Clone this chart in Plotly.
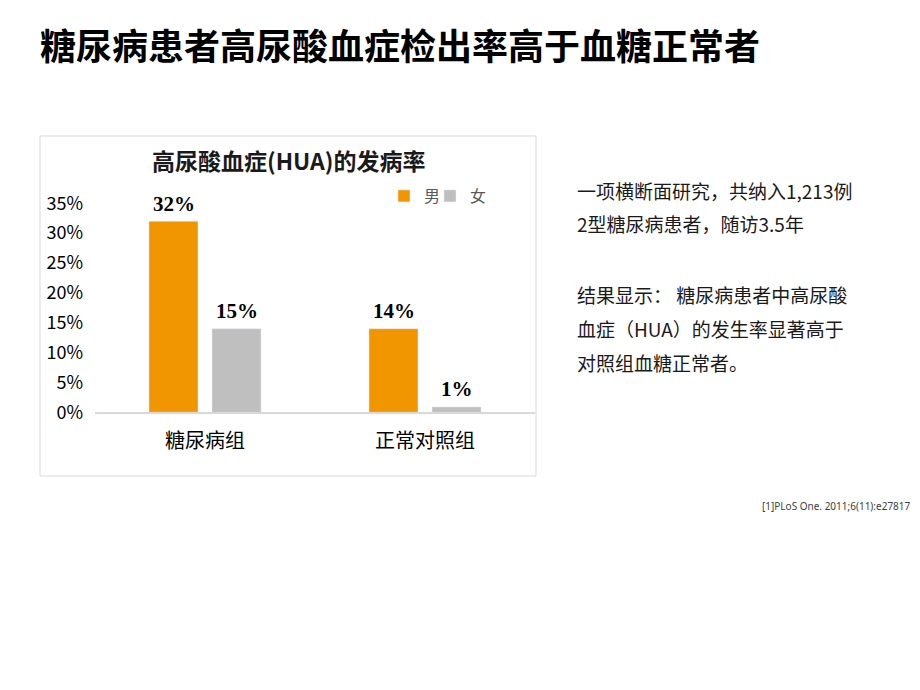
import plotly.graph_objects as go

categories = ["糖尿病组", "正常对照组"]
male = [32, 14]
female = [14, 0.9]
male_labels = ["32%", "14%"]
female_labels = ["15%", "1%"]
series_names = ["男", "女"]
y_ticks = [0, 5, 10, 15, 20, 25, 30, 35]
y_tick_text = [f"{v}%" for v in y_ticks]

main_title = "糖尿病患者高尿酸血症检出率高于血糖正常者"
chart_title = "高尿酸血症(HUA)的发病率"
side_lines = [
    "一项横断面研究，共纳入1,213例",
    "2型糖尿病患者，随访3.5年",
    "结果显示： 糖尿病患者中高尿酸",
    "血症（HUA）的发生率显著高于",
    "对照组血糖正常者。",
]
side_line_y = [190, 224, 294, 328, 362]
citation = "[1]PLoS One. 2011;6(11):e27817"

W, H = 920, 690
def px(x):
    return x / W
def py(y):
    return 1 - y / H

CJK = "Noto Sans CJK SC"
ORANGE = "#F29600"
GRAY = "#BFBFBF"

fig = go.Figure()
fig.add_trace(go.Bar(x=categories, y=male, name=series_names[0], marker_color=ORANGE, legend="legend"))
fig.add_trace(go.Bar(x=categories, y=female, name=series_names[1], marker_color=GRAY, legend="legend2"))

label_font = dict(family="Liberation Serif", size=21, color="#000000")
annotations = []
for cat, v, lab in zip(categories, male, male_labels):
    annotations.append(dict(x=cat, y=v, xref="x", yref="y", text="<b>" + lab + "</b>", showarrow=False,
                            xshift=-31.5, yshift=17.5, yanchor="middle", font=label_font))
for cat, v, lab in zip(categories, female, female_labels):
    annotations.append(dict(x=cat, y=v, xref="x", yref="y", text="<b>" + lab + "</b>", showarrow=False,
                            xshift=31.5, yshift=17.5, yanchor="middle", font=label_font))

annotations.append(dict(x=px(38), y=py(44), xref="paper", yref="paper", xanchor="left", yanchor="middle",
                        text="<b>" + main_title + "</b>", showarrow=False,
                        font=dict(family=CJK, size=36, color="#000000")))
annotations.append(dict(x=px(288), y=py(160), xref="paper", yref="paper", xanchor="center", yanchor="middle",
                        text="<b>" + chart_title + "</b>", showarrow=False,
                        font=dict(family=CJK, size=23, color="#1a1a1a")))
for line, yy in zip(side_lines, side_line_y):
    annotations.append(dict(x=px(575), y=py(yy), xref="paper", yref="paper", xanchor="left", yanchor="middle",
                            text=line, showarrow=False,
                            font=dict(family=CJK, size=19, color="#1a1a1a")))
annotations.append(dict(x=px(913), y=py(506), xref="paper", yref="paper", xanchor="right", yanchor="middle",
                        text=citation, showarrow=False,
                        font=dict(family="Noto Sans", size=10, color="#404040")))

legend_common = dict(orientation="h", yanchor="middle", xanchor="left",
                     font=dict(family=CJK, size=16, color="#595959"),
                     itemwidth=30, bgcolor="rgba(0,0,0,0)", borderwidth=0)

fig.update_layout(
    width=W, height=H,
    margin=dict(l=0, r=0, t=0, b=0, autoexpand=False),
    paper_bgcolor="white", plot_bgcolor="white",
    barmode="group", bargap=0.427, bargroupgap=0.222,
    showlegend=True,
    legend=dict(legend_common, x=px(384), y=py(196)),
    legend2=dict(legend_common, x=px(430), y=py(196)),
    xaxis=dict(domain=[px(95), px(535)], showline=True, linecolor="#D9D9D9", linewidth=1.5,
               ticks="", showgrid=False, zeroline=False, ticklabelstandoff=10, automargin=False,
               tickfont=dict(family=CJK, size=20, color="#000000")),
    yaxis=dict(domain=[py(412.3), py(203.3)], range=[0, 35], tickmode="array", tickvals=y_ticks,
               ticktext=y_tick_text, automargin=False,
               showline=False, showgrid=False, zeroline=False, ticks="", ticklabelstandoff=11,
               tickfont=dict(family=CJK, size=18, color="#000000")),
    annotations=annotations,
    shapes=[dict(type="rect", xref="paper", yref="paper", x0=px(40), x1=px(536), y0=py(476), y1=py(136),
                 line=dict(color="#D9D9D9", width=1), fillcolor="rgba(0,0,0,0)", layer="below")],
)

fig.write_html("out.html")
